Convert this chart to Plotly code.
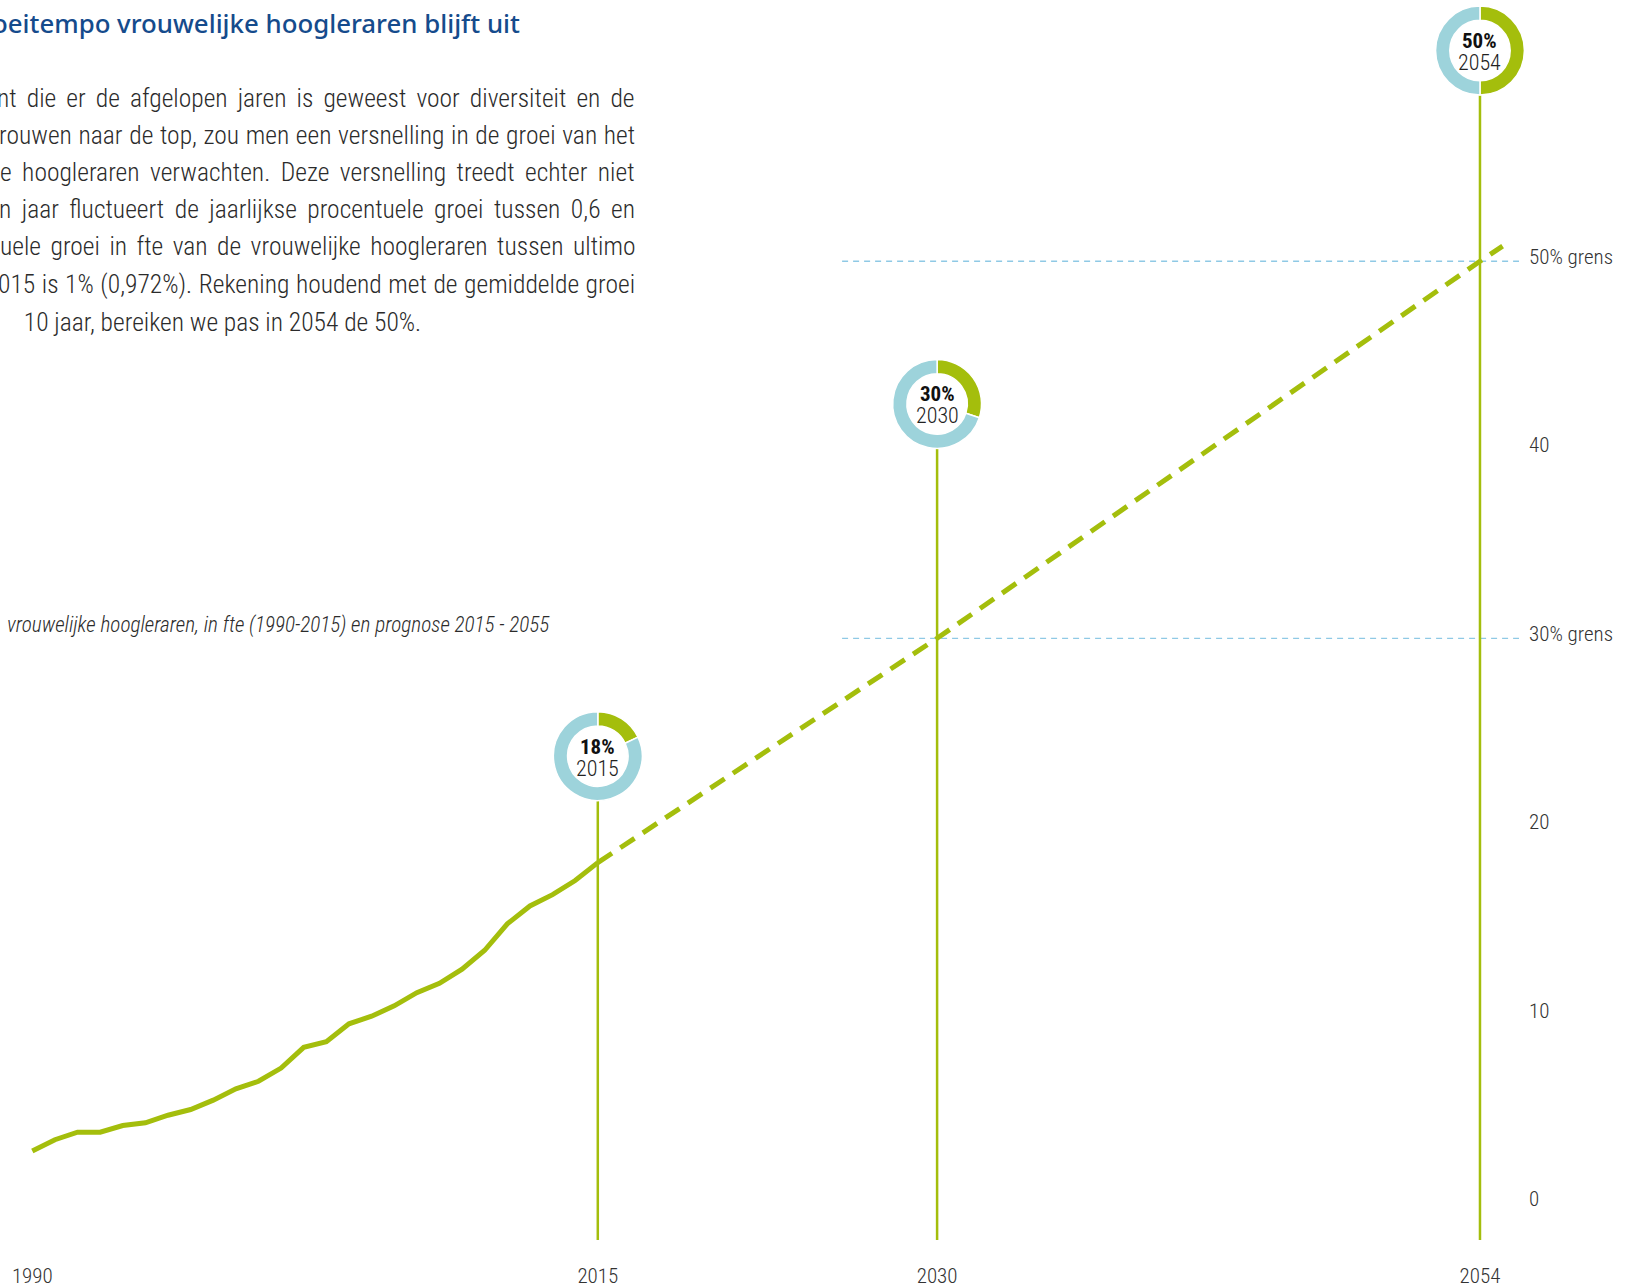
import plotly.graph_objects as go

# ---------------- data ----------------
hist_years = list(range(1990, 2016))
hist_pct = [2.8, 3.4, 3.8, 3.8, 4.15, 4.3, 4.7, 5.0, 5.5, 6.1, 6.5, 7.2, 8.3, 8.6,
            9.55, 9.95, 10.5, 11.2, 11.7, 12.45, 13.45, 14.85, 15.8, 16.4, 17.15, 18.1]

prog_years = [2015, 2030, 2054, 2055]
prog_pct = [18.1, 30, 50, 50.8]

milestone_years = [2015, 2030, 2054]
milestone_pct = [18, 30, 50]
milestone_labels = ["18%", "30%", "50%"]

threshold_pct = [30, 50]

ytick_vals = [0, 10, 20, 30, 40, 50]
ytick_text = ["0", "10", "20", "30% grens", "40", "50% grens"]
xtick_vals = [1990, 2015, 2030, 2054]
xtick_text = ["1990", "2015", "2030", "2054"]

title_text = "oeitempo vrouwelijke hoogleraren blijft uit"
body_lines = [
    "nt die er de afgelopen jaren is geweest voor diversiteit en de",
    "rouwen naar de top, zou men een versnelling in de groei van het",
    "e hoogleraren verwachten. Deze versnelling treedt echter niet",
    "n jaar fluctueert de jaarlijkse procentuele groei tussen 0,6 en",
    "uele groei in fte van de vrouwelijke hoogleraren tussen ultimo",
    "015 is 1% (0,972%). Rekening houdend met de gemiddelde groei",
    " 10 jaar, bereiken we pas in 2054 de 50%.",
]
caption_text = "vrouwelijke hoogleraren, in fte (1990-2015) en prognose 2015 - 2055"

# ---------------- style / layout ----------------
W, H = 1626, 1288
MB = 46
PLOT_H = H - MB
PLOT_W = 1519
XDOM = [0, PLOT_W / W]
XR = [1988.572, 1988.572 + PLOT_W / 22.62]
YR = [-1.92, 63.86]
LABEL_LIFT = 0.25            # y tick labels sit slightly above their values
GREEN = "#A4BE0C"
LBLUE = "#9DD3DB"
REFBLUE = "#8FC9E5"
TXT = "#2b2b2b"
FONT = "Roboto Condensed, Roboto, sans-serif"
DONUT_R = 44.5               # px
DONUT_Y = [23.75, 42.43, 61.18]  # vertical placement of the donuts (axis units)
BODY_Y = [98.5, 134.8, 172.1, 209.5, 246.8, 284.1, 322.5]   # px
BODY_WORDSPACE = [4.3, 0.9, 4.7, 4.7, 3.7, 0.8, 0]        # justification emulation

PX_PER_Y = PLOT_H / (YR[1] - YR[0])


def xfrac(year):
    return XDOM[0] + (XDOM[1] - XDOM[0]) * (year - XR[0]) / (XR[1] - XR[0])


def yfrac(v):
    return (v - YR[0]) / (YR[1] - YR[0])


def px_x(p):
    return p / W


def px_y(p):
    return (PLOT_H - p) / PLOT_H


fig = go.Figure()

# vertical milestone lines
for yr, dy in zip(milestone_years, DONUT_Y):
    fig.add_trace(go.Scatter(
        x=[yr, yr], y=[YR[0], dy - DONUT_R / PX_PER_Y + 0.3],
        mode="lines", line=dict(color=GREEN, width=2.5),
        hoverinfo="skip", showlegend=False))

# historical line
fig.add_trace(go.Scatter(
    x=hist_years, y=hist_pct, mode="lines",
    line=dict(color=GREEN, width=5), showlegend=False, name="1990-2015"))

# prognosis line
fig.add_trace(go.Scatter(
    x=prog_years, y=prog_pct, mode="lines",
    line=dict(color=GREEN, width=5, dash="17px,10px"), showlegend=False,
    name="prognose"))

# invisible trace carrying the label axis
fig.add_trace(go.Scatter(x=[hist_years[0]], y=[hist_pct[0]], yaxis="y2", mode="markers",
                         marker=dict(opacity=0), hoverinfo="skip", showlegend=False))

# donuts
for yr, pct, dy in zip(milestone_years, milestone_pct, DONUT_Y):
    cx, cy = xfrac(yr), yfrac(dy)
    rx, ry = DONUT_R / W, DONUT_R / PLOT_H
    fig.add_trace(go.Pie(
        values=[pct, 100 - pct], sort=False, direction="clockwise", rotation=0,
        hole=0.68, textinfo="none", hoverinfo="skip", showlegend=False,
        marker=dict(colors=[GREEN, LBLUE], line=dict(color="white", width=1.5)),
        domain=dict(x=[cx - rx, cx + rx], y=[cy - ry, cy + ry])))

annotations = []
for yr, lab, dy in zip(milestone_years, milestone_labels, DONUT_Y):
    annotations.append(dict(x=yr, y=dy, xref="x", yref="y", text="<b>" + lab + "</b>",
                            showarrow=False, yshift=9.5,
                            font=dict(family=FONT, size=21, color="#111")))
    annotations.append(dict(x=yr, y=dy, xref="x", yref="y", text=str(yr),
                            showarrow=False, yshift=-12,
                            font=dict(family=FONT, size=22, color="#222", weight=300)))

# title
annotations.append(dict(x=px_x(522), y=px_y(23), xref="paper", yref="paper",
                        xanchor="right", yanchor="middle", text=title_text, showarrow=False,
                        font=dict(family="Noto Sans, Open Sans, sans-serif", size=25.8,
                                  color="#154B8C", weight=500)))
# body text
for i, (line, yy, ws) in enumerate(zip(body_lines, BODY_Y, BODY_WORDSPACE)):
    annotations.append(dict(x=px_x(423 if i == len(body_lines) - 1 else 637), y=px_y(yy),
                            xref="paper", yref="paper",
                            xanchor="right", yanchor="middle",
                            text='<span style="word-spacing:%.1fpx">%s</span>' % (ws, line),
                            showarrow=False,
                            font=dict(family=FONT, size=25.5, color=TXT, weight=300)))
# caption
annotations.append(dict(x=px_x(5), y=px_y(626), xref="paper", yref="paper",
                        xanchor="left", yanchor="middle", text="<i>" + caption_text + "</i>",
                        showarrow=False,
                        font=dict(family=FONT, size=21.2, color=TXT, weight=300)))

shapes = []
for t in threshold_pct:
    shapes.append(dict(type="line", xref="x", yref="y", x0=2025.8, x1=XR[1], y0=t, y1=t,
                       line=dict(color=REFBLUE, width=1.3, dash="6px,5px"), layer="below"))

tickfont = dict(family=FONT, size=21, color="#333", weight=300)
fig.update_layout(
    width=W, height=H,
    margin=dict(l=0, r=0, t=0, b=MB, pad=0),
    paper_bgcolor="white", plot_bgcolor="white",
    showlegend=False,
    annotations=annotations, shapes=shapes,
    xaxis=dict(domain=XDOM, range=XR, showgrid=False, zeroline=False, showline=False,
               tickmode="array", tickvals=xtick_vals, ticktext=xtick_text, ticks="",
               ticklabelstandoff=21, tickfont=tickfont),
    yaxis=dict(range=YR, showgrid=False, zeroline=False, showline=False,
               showticklabels=False, ticks=""),
    yaxis2=dict(range=[YR[0] - LABEL_LIFT, YR[1] - LABEL_LIFT], overlaying="y", side="right",
                anchor="x", showgrid=False, zeroline=False, showline=False,
                tickmode="array", tickvals=ytick_vals, ticktext=ytick_text,
                ticks="", ticklabelstandoff=9, tickfont=tickfont),
)

fig.write_html("out.html", config={"displayModeBar": False},
               post_script="document.body.style.margin='0';")
